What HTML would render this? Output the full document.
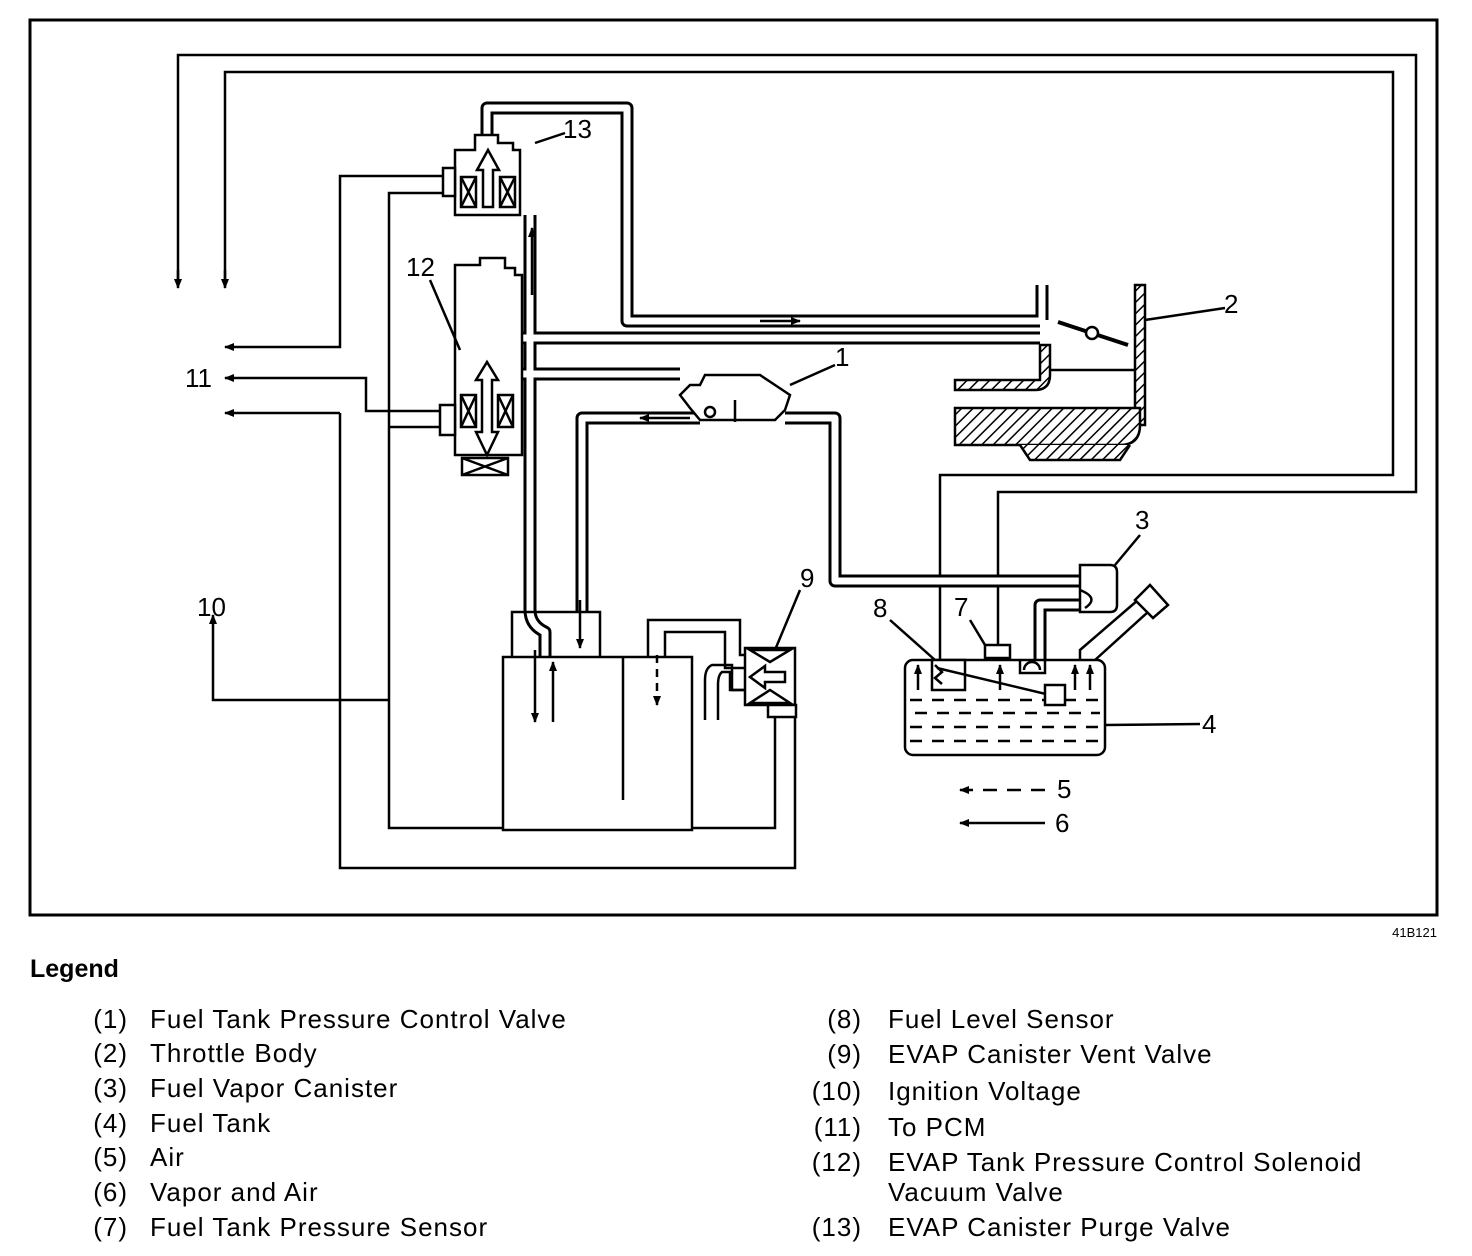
<!DOCTYPE html>
<html><head><meta charset="utf-8"><style>
html,body{margin:0;padding:0;background:#fff;}
svg{display:block}
text{font-family:"Liberation Sans",Arial,sans-serif;fill:#000}
</style></head><body>
<svg width="1472" height="1256" viewBox="0 0 1472 1256" xmlns="http://www.w3.org/2000/svg">
<defs>
<marker id="ah" markerWidth="10" markerHeight="8" refX="9" refY="4" orient="auto" markerUnits="userSpaceOnUse"><path d="M0,0 L10,4 L0,8 Z" fill="#000"/></marker>
<pattern id="hatch" width="8" height="8" patternUnits="userSpaceOnUse" patternTransform="rotate(45)"><rect width="8" height="8" fill="#fff"/><line x1="0" y1="0" x2="0" y2="8" stroke="#000" stroke-width="3"/></pattern>
</defs>
<rect x="30" y="20" width="1407" height="895" fill="none" stroke="#000" stroke-width="3"/>

<g fill="none" stroke="#000" stroke-width="2.5">
<path d="M178,285 V55 H1416 V492 H998 V645"/>
<path d="M225,285 V72 H1393 V475 H940 V660"/>
<line x1="178" y1="270" x2="178" y2="288" marker-end="url(#ah)"/>
<line x1="225" y1="270" x2="225" y2="288" marker-end="url(#ah)"/>
<path d="M443,176 H340 V347 H225" marker-end="url(#ah)"/>
<path d="M443,411 H366 V378 H225" marker-end="url(#ah)"/>
<path d="M340,413 H225" marker-end="url(#ah)"/>
<path d="M340,413 V868 H795 V712"/>
<path d="M443,193 H389 V828 H775 V712"/>
<path d="M389,700 H213 V615" marker-end="url(#ah)"/>
<line x1="389" y1="427" x2="443" y2="427"/>
</g>

<g fill="none" stroke-linejoin="round">
<g stroke="#000" stroke-width="13">
<path d="M487,140 V108 H627 V321 H1040"/>
<path d="M487,268 V338 H1040"/>
<path d="M515,374 H680"/>
<path d="M530,215 V610 Q530,625 545,632 V680"/>
<path d="M700,418 H582 V612"/>
<path d="M785,418 H835 V581 H1080"/>
<path d="M1080,605 H1040 V660"/>
<path d="M1042,285 V320"/>
</g>
<g stroke="#fff" stroke-width="7">
<path d="M487,140 V108 H627 V321 H1040"/>
<path d="M487,268 V338 H1040"/>
<path d="M515,374 H680"/>
<path d="M530,215 V610 Q530,625 545,632 V680"/>
<path d="M700,418 H582 V612"/>
<path d="M785,418 H835 V581 H1080"/>
<path d="M1080,605 H1040 V660"/>
<path d="M1042,285 V320"/>
</g>
</g>

<g fill="none" stroke="#000" stroke-width="2.5">
<path d="M455,150 H475 V135 H498 V143 H513 V150 H520 V215 H455 Z" fill="#fff"/>
<rect x="443" y="168" width="12" height="28" fill="#fff"/>
<rect x="461" y="177" width="15" height="30"/><path d="M461,177 L476,207 M476,177 L461,207"/>
<rect x="500" y="177" width="15" height="30"/><path d="M500,177 L515,207 M515,177 L500,207"/>
<path d="M483,207 V170 H477 L488,150 L499,170 H493 V207 Z"/>
<line x1="532" y1="295" x2="532" y2="228" marker-end="url(#ah)"/>
<path d="M455,265 H480 V258 H505 V268 H515 V275 H522 V455 H455 Z" fill="#fff"/>
<rect x="440" y="405" width="15" height="30" fill="#fff"/>
<rect x="461" y="395" width="15" height="32"/><path d="M461,395 L476,427 M476,395 L461,427"/>
<rect x="498" y="395" width="15" height="32"/><path d="M498,395 L513,427 M513,395 L498,427"/>
<path d="M482,380 H476 L487,362 L498,380 H492 V432 H498 L487,455 L476,432 H482 Z"/>
<path d="M462,458 H508 V475 H462 Z M462,458 L508,475 M508,458 L462,475"/>
<line x1="535" y1="143" x2="565" y2="133"/>
<line x1="430" y1="280" x2="460" y2="350"/>
<line x1="790" y1="385" x2="835" y2="365"/>
<line x1="1145" y1="320" x2="1225" y2="308"/>
<line x1="1115" y1="565" x2="1140" y2="535"/>
<line x1="775" y1="650" x2="800" y2="590"/>
<line x1="890" y1="620" x2="935" y2="660"/>
<line x1="970" y1="620" x2="985" y2="645"/>
<line x1="1105" y1="725" x2="1200" y2="724"/>
<path d="M680,395 L690,385 H700 L705,375 H760 L775,385 L790,395 L785,410 L775,420 H700 L690,408 Z" fill="#fff"/>
<circle cx="710" cy="412" r="5" fill="#fff"/>
<line x1="735" y1="400" x2="735" y2="422"/>
<line x1="690" y1="418" x2="640" y2="418" marker-end="url(#ah)"/>
<line x1="760" y1="321" x2="800" y2="321" marker-end="url(#ah)"/>
<rect x="1135" y="285" width="10" height="140" fill="url(#hatch)"/>
<path d="M1040,345 H1050 V375 Q1050,390 1035,390 H955 V380 H1040 Z" fill="url(#hatch)"/>
<path d="M955,408 H1140 V425 Q1140,445 1120,445 H955 Z" fill="url(#hatch)"/>
<path d="M1020,445 L1030,460 H1120 L1130,445" fill="url(#hatch)"/>
<line x1="1050" y1="370" x2="1135" y2="370"/>
<line x1="1058" y1="322" x2="1128" y2="345" stroke-width="4"/>
<circle cx="1092" cy="333" r="6" fill="#fff"/>
<path d="M1080,565 H1110 Q1117,565 1117,572 V605 Q1117,612 1110,612 H1080 Z" fill="#fff"/>
<path d="M1080,590 Q1100,598 1085,608" />
<rect x="503" y="657" width="189" height="173" fill="#fff"/>
<path d="M512,657 V612 H600 V657"/>
<line x1="623" y1="657" x2="623" y2="800"/>
<path d="M648,657 V620 H740 V655 H745"/>
<path d="M665,657 V632 H725 V668 H745"/>
<path d="M745,690 H732 V665 H712 Q705,668 705,680 V720"/>
<path d="M745,690 H730 V672 H722 Q718,675 718,685 V720"/>
<line x1="535" y1="650" x2="535" y2="722" marker-end="url(#ah)"/>
<line x1="553" y1="722" x2="553" y2="662" marker-end="url(#ah)"/>
<line x1="580" y1="600" x2="580" y2="648" marker-end="url(#ah)"/>
<line x1="657" y1="655" x2="657" y2="705" stroke-dasharray="8,6" marker-end="url(#ah)"/>
<rect x="745" y="648" width="50" height="57" fill="#fff"/>
<path d="M750,650 H790 L770,662 Z M750,703 H790 L770,690 Z"/>
<path d="M785,672 H765 V666 L750,677 L765,688 V682 H785 Z"/>
<rect x="768" y="705" width="28" height="12" fill="#fff"/>
<rect x="905" y="660" width="200" height="95" rx="8" fill="#fff"/>
<path d="M910,700 H1105" stroke-dasharray="12,10"/>
<path d="M915,713 H1100" stroke-dasharray="12,10"/>
<path d="M910,727 H1100" stroke-dasharray="12,10"/>
<path d="M910,741 H1100" stroke-dasharray="12,10"/>
<rect x="985" y="645" width="25" height="13" fill="#fff"/>
<path d="M1020,660 V673 H1045 V660"/>
<path d="M1024,670 A8,8 0 0 1 1040,670"/>
<rect x="932" y="660" width="33" height="30" fill="#fff"/>
<path d="M935,665 L942,672 L935,678 L942,684"/>
<line x1="937" y1="668" x2="1050" y2="695"/>
<rect x="1045" y="685" width="20" height="20" fill="#fff"/>
<line x1="918" y1="690" x2="918" y2="665" marker-end="url(#ah)"/>
<line x1="1000" y1="690" x2="1000" y2="665" marker-end="url(#ah)"/>
<line x1="1075" y1="690" x2="1075" y2="665" marker-end="url(#ah)"/>
<line x1="1090" y1="690" x2="1090" y2="665" marker-end="url(#ah)"/>
<path d="M1095,660 L1148,612 M1080,660 V650 L1138,600"/>
<path d="M1135,600 L1150,585 L1168,605 L1153,618 Z" fill="#fff"/>
<line x1="1045" y1="790" x2="960" y2="790" stroke-dasharray="14,10" marker-end="url(#ah)"/>
<line x1="1045" y1="823" x2="960" y2="823" marker-end="url(#ah)"/>
</g>

<g font-size="26">
<text x="563" y="138">13</text>
<text x="406" y="276">12</text>
<text x="185" y="387">11</text>
<text x="197" y="616">10</text>
<text x="835" y="366">1</text>
<text x="1224" y="313">2</text>
<text x="1135" y="529">3</text>
<text x="800" y="587">9</text>
<text x="873" y="617">8</text>
<text x="954" y="616">7</text>
<text x="1202" y="733">4</text>
<text x="1057" y="798">5</text>
<text x="1055" y="832">6</text>
</g>
<text x="1437" y="937" font-size="13" text-anchor="end">41B121</text>
<text x="30" y="977" font-size="25" font-weight="bold">Legend</text>
<g font-size="26" letter-spacing="1">
<g text-anchor="end">
<text x="128" y="1028">(1)</text><text x="128" y="1062">(2)</text><text x="128" y="1097">(3)</text><text x="128" y="1132">(4)</text><text x="128" y="1166">(5)</text><text x="128" y="1201">(6)</text><text x="128" y="1236">(7)</text>
<text x="862" y="1028">(8)</text><text x="862" y="1063">(9)</text><text x="862" y="1100">(10)</text><text x="862" y="1136">(11)</text><text x="862" y="1171">(12)</text><text x="862" y="1236">(13)</text>
</g>
<text x="150" y="1028">Fuel Tank Pressure Control Valve</text>
<text x="150" y="1062">Throttle Body</text>
<text x="150" y="1097">Fuel Vapor Canister</text>
<text x="150" y="1132">Fuel Tank</text>
<text x="150" y="1166">Air</text>
<text x="150" y="1201">Vapor and Air</text>
<text x="150" y="1236">Fuel Tank Pressure Sensor</text>
<text x="888" y="1028">Fuel Level Sensor</text>
<text x="888" y="1063">EVAP Canister Vent Valve</text>
<text x="888" y="1100">Ignition Voltage</text>
<text x="888" y="1136">To PCM</text>
<text x="888" y="1171">EVAP Tank Pressure Control Solenoid</text>
<text x="888" y="1201">Vacuum Valve</text>
<text x="888" y="1236">EVAP Canister Purge Valve</text>
</g>
</svg>
</body></html>
